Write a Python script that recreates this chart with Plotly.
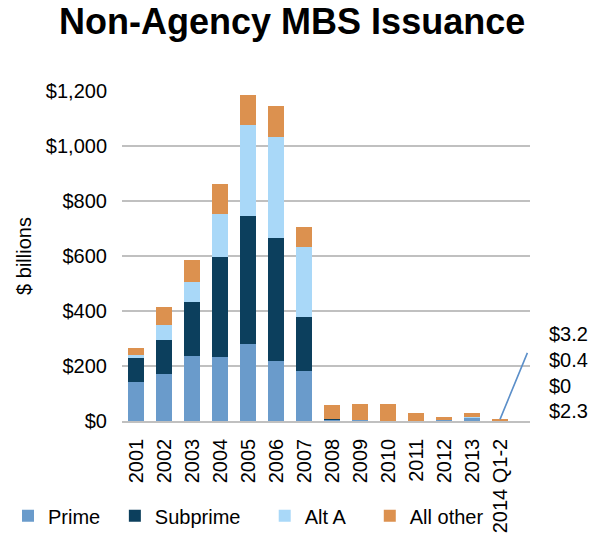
import plotly.graph_objects as go

years = ['2001', '2002', '2003', '2004', '2005', '2006', '2007',
         '2008', '2009', '2010', '2011', '2012', '2013', '2014 Q1-2']

prime = [143, 171, 236, 233, 280, 219, 181, 6, 4, 1, 1, 5, 14, 2.3]
subprime = [85, 122, 196, 362, 464, 448, 198, 2, 0, 0, 0, 0, 0, 0]
alt_a = [11, 55, 73, 159, 333, 366, 253, 1, 0, 0, 0, 0, 1, 0.4]
all_other = [27, 65, 80, 109, 109, 112, 73, 49, 57, 62, 27, 8, 14, 3.2]

series = [('Prime', prime, '#6A9BCB'),
          ('Subprime', subprime, '#0C3F5D'),
          ('Alt A', alt_a, '#A9D8F8'),
          ('All other', all_other, '#DC914F')]

fnt = 'Liberation Sans, Arial, Helvetica, sans-serif'

# one small legend per series so the entries sit where the original has them
leg_x = [0.0, 0.179, 0.43, 0.606]
leg_names = ['legend', 'legend2', 'legend3', 'legend4']

fig = go.Figure()
for (name, vals, col), lg in zip(series, leg_names):
    fig.add_trace(go.Bar(x=years, y=vals, name=name, marker_color=col,
                         marker_line_width=0, legend=lg))

# callout for the last (tiny) bar
last = years[-1]
last_total = prime[-1] + subprime[-1] + alt_a[-1] + all_other[-1]
fig.add_annotation(x=last, y=last_total, text='', showarrow=True,
                   ax=28, ay=-68, arrowhead=0, arrowwidth=1.6,
                   arrowcolor='#5B8FC9')
callout = [all_other[-1], alt_a[-1], subprime[-1], prime[-1]]
for i, v in enumerate(callout):
    fig.add_annotation(xref='paper', yref='paper', x=1.042, y=0.224 - i * 0.078,
                       text='$' + ('%g' % v), showarrow=False, xanchor='left',
                       font=dict(size=20, color='black', family=fnt))

legends = {}
for lg, lx in zip(leg_names, leg_x):
    legends[lg] = dict(orientation='h', xref='container', yref='container',
                       x=lx, y=0.063, xanchor='left', yanchor='middle',
                       font=dict(size=20), bgcolor='rgba(0,0,0,0)')

fig.update_layout(
    width=597, height=542,
    barmode='stack', bargap=0.415,
    plot_bgcolor='white', paper_bgcolor='white',
    font=dict(family=fnt, size=20, color='black'),
    margin=dict(l=114, r=75, t=83, b=129, autoexpand=False),
    title=dict(text='<b>Non-Agency MBS Issuance</b>', x=0.476, xanchor='center',
               y=0.998, yanchor='top', yref='container',
               font=dict(size=36, color='black', family=fnt)),
    showlegend=True,
    **legends,
)
fig.update_yaxes(range=[0, 1200], dtick=200, tickprefix='$', tickformat=',',
                 showgrid=True, gridcolor='#C0C0C0', gridwidth=1.5,
                 zeroline=False, showline=False, ticklabelstandoff=14,
                 automargin=False,
                 title=dict(text='$ billions', standoff=8, font=dict(size=20)))
fig.update_xaxes(tickangle=-90, showline=True, linecolor='#C0C0C0', linewidth=1.5,
                 ticklabelstandoff=8, ticks='', automargin=False)

fig.write_html('out.html')
